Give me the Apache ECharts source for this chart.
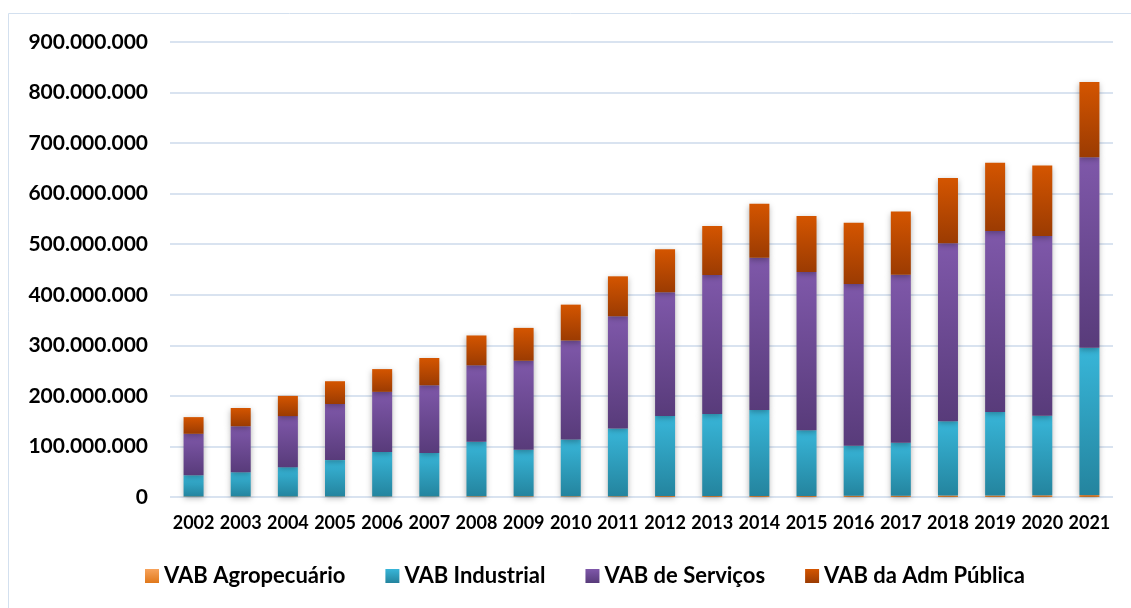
<!DOCTYPE html>
<html>
<head>
<meta charset="utf-8">
<script src="https://cdn.jsdelivr.net/npm/echarts@6/dist/echarts.min.js"></script>
<style>
  html, body { margin: 0; padding: 0; background: #fff; }
  #chart { width: 1131px; height: 608px; }
</style>
</head>
<body>
<div id="chart"></div>
<script>
var myChart = echarts.init(document.getElementById('chart'));

var years = ['2002', '2003', '2004', '2005', '2006', '2007', '2008', '2009', '2010', '2011',
             '2012', '2013', '2014', '2015', '2016', '2017', '2018', '2019', '2020', '2021'];

// valores em milhões
var agro = [1, 1, 1, 1, 1, 1, 1.5, 1.5, 1.5, 1.5, 2, 2, 2, 2, 2.5, 2.5, 3, 3, 3.5, 4];
var industrial = [42, 48, 58, 72, 88, 86, 108, 92, 112, 134, 158, 162, 170, 130, 99, 105, 147, 165, 157, 291];
var servicos = [82, 91, 101, 111, 119, 134, 151, 176, 196, 222, 245, 275, 301, 313, 320, 332, 352, 358, 356, 377];
var admPublica = [33, 36, 40, 45, 45, 54, 59, 65, 71, 79, 85, 97, 107, 111, 121, 125, 129, 135, 139, 149];

var yTicks = [0, 100000000, 200000000, 300000000, 400000000, 500000000, 600000000, 700000000, 800000000, 900000000];

var toUnits = function (arr) {
    return arr.map(function (v) { return v * 1000000; });
};

var grad = function (top, bottom) {
    return new echarts.graphic.LinearGradient(0, 0, 0, 1, [
        {offset: 0, color: top},
        {offset: 1, color: bottom}
    ]);
};

var fmt = function (v) {
    return String(Math.round(v)).replace(/\B(?=(\d{3})+(?!\d))/g, '.');
};

var barStyle = function (top, bottom) {
    return {
        color: grad(top, bottom),
        shadowBlur: 6,
        shadowColor: 'rgba(0,0,0,0.3)',
        shadowOffsetY: 2
    };
};

var option = {
    animation: false,
    graphic: [{
        type: 'rect',
        shape: {x: 8.5, y: 13.5, width: 1140, height: 620},
        style: {fill: 'none', stroke: '#d3e0ef', lineWidth: 1}
    }],
    grid: {left: 170, right: 18, top: 42, bottom: 111},
    legend: {
        bottom: 16,
        left: 140,
        itemWidth: 14,
        itemHeight: 14,
        itemGap: 40,
        icon: 'rect',
        textStyle: {fontFamily: 'Lato', fontWeight: 'bold', fontSize: 22, color: '#000'},
        data: ['VAB Agropecuário', 'VAB Industrial', 'VAB de Serviços', 'VAB da Adm Pública']
    },
    xAxis: {
        type: 'category',
        data: years,
        axisLine: {show: false},
        axisTick: {show: false},
        axisLabel: {interval: 0, fontFamily: 'Lato', fontWeight: 'bold', fontSize: 18, color: '#000', margin: 17}
    },
    yAxis: {
        type: 'value',
        min: yTicks[0],
        max: yTicks[yTicks.length - 1],
        interval: 100000000,
        axisLine: {show: false},
        axisTick: {show: false},
        splitLine: {lineStyle: {color: '#d9e3f0', width: 2}},
        axisLabel: {
            fontFamily: 'Lato', fontWeight: 'bold', fontSize: 21, color: '#000', margin: 22,
            formatter: fmt
        }
    },
    series: [
        {
            name: 'VAB Agropecuário',
            type: 'bar',
            stack: 'vab',
            barWidth: 20,
            data: toUnits(agro),
            itemStyle: {color: grad('#f7a35c', '#e0781b')}
        },
        {
            name: 'VAB Industrial',
            type: 'bar',
            stack: 'vab',
            barWidth: 20,
            data: toUnits(industrial),
            itemStyle: barStyle('#38b6d9', '#24849e')
        },
        {
            name: 'VAB de Serviços',
            type: 'bar',
            stack: 'vab',
            barWidth: 20,
            data: toUnits(servicos),
            itemStyle: barStyle('#7f58aa', '#583b7a')
        },
        {
            name: 'VAB da Adm Pública',
            type: 'bar',
            stack: 'vab',
            barWidth: 20,
            data: toUnits(admPublica),
            itemStyle: barStyle('#d45500', '#9b3b02')
        }
    ]
};

myChart.setOption(option);
</script>
</body>
</html>
